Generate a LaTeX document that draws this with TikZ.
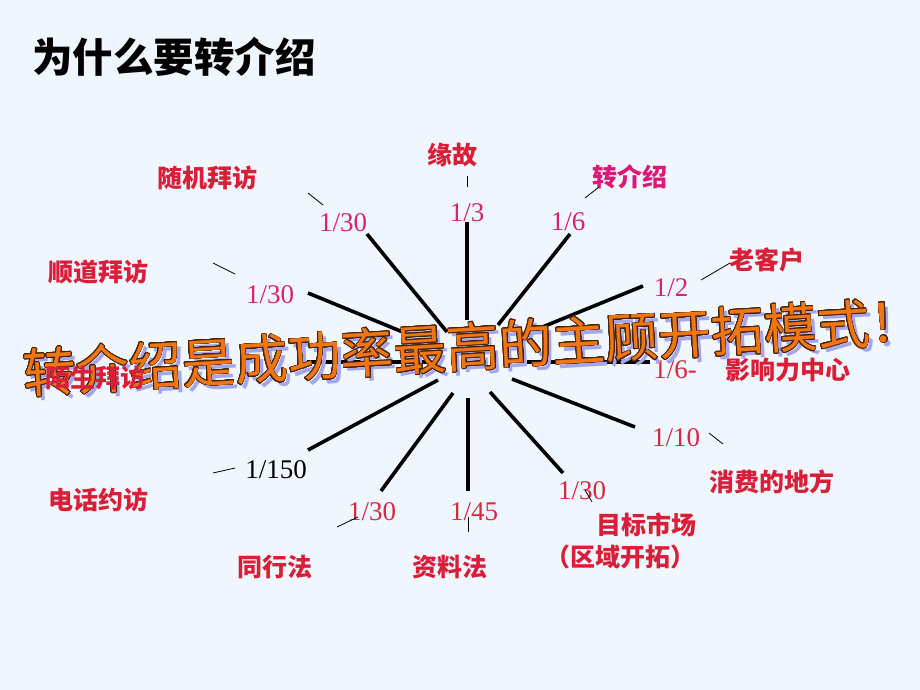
\documentclass[tikz,border=0pt]{standalone}
\usepackage{fontspec}
\setmainfont{Liberation Serif}
\newfontfamily\cjk{Noto Sans CJK SC}
\usepackage[copies]{contour}
\contourlength{0.7pt}
\contournumber{24}
\usetikzlibrary{positioning}

\definecolor{bgblue}{RGB}{239,246,253}
\definecolor{lblred}{RGB}{218,30,55}
\definecolor{lblpink}{RGB}{225,20,120}
\definecolor{ratpink}{RGB}{215,35,115}
\definecolor{ratred}{RGB}{215,40,65}
\definecolor{wordorange}{RGB}{240,118,20}
\definecolor{wordbrown}{RGB}{70,35,10}
\definecolor{wordshadow}{RGB}{165,165,235}

\begin{document}
\begin{tikzpicture}[x=1pt, y=-1pt,
  lbl/.style={text=lblred, font=\cjk\bfseries\fontsize{25}{28}\selectfont, inner sep=0pt},
  rat/.style={font=\fontsize{27}{30}\selectfont, inner sep=0pt},
  spoke/.style={line width=3.6pt},
  tick/.style={line width=0.8pt}]
\fill[bgblue] (0,0) rectangle (920,690);
\useasboundingbox (0,0) rectangle (920,690);

\node[anchor=west, inner sep=0pt, font=\cjk\bfseries\fontsize{40.5}{46}\selectfont] (title) at (32,57) {为什么要转介绍};

% spokes: outer end / inner end
\foreach \n/\ox/\oy/\ix/\iy in {1/467/222/467/320, 2/570/234/498/325, 3/643/286/540/328,
    4/650/362/527/362, 5/635/427/512/379, 6/563/473/490/392, 7/468/491/468/398,
    8/381/491/453/393, 9/308/450/438/380, 10/307/362/430/362, 11/308/293/410/335,
    12/367/234/447/332} {
  \coordinate (o\n) at (\ox,\oy);
  \coordinate (i\n) at (\ix,\iy);
  \draw[spoke] (i\n) -- (o\n);
}

% ratios
\node[rat, text=ratpink] (r12) at (343,223) {1/30};
\node[rat, text=ratpink] (r1) at (467,213) {1/3};
\node[rat, text=ratpink] (r2) at (568,222) {1/6};
\node[rat, text=ratpink] (r3) at (671,288) {1/2};
\node[rat, text=ratpink] (r11) at (270,295) {1/30};
\node[rat, text=ratred] (r4) at (675,370) {1/6-};
\node[rat, text=ratred] (r5) at (676,438) {1/10};
\node[rat, text=ratred] (r6) at (582,491) {1/30};
\node[rat, text=ratred] (r7) at (474,512) {1/45};
\node[rat, text=ratred] (r8) at (372,512) {1/30};
\node[rat, text=black] (r9) at (276,470) {1/150};

% labels
\node[lbl] (yuangu) at (452,155) {缘故};
\node[lbl] (suiji) at (207,178) {随机拜访};
\node[lbl, text=lblpink] (zhuan) at (630,177) {转介绍};
\node[lbl] (shundao) at (98,272) {顺道拜访};
\node[lbl] (laoke) at (767,260) {老客户};
\node[lbl] (yingxiang) at (788,370) {影响力中心};
\node[lbl] (xiaofei) at (772,482) {消费的地方};
\node[lbl] (dianhua) at (98,500) {电话约访};
\node[lbl] (tonghang) at (275,567) {同行法};
\node[lbl] (ziliao) at (450,567) {资料法};
\node[lbl] (mubiao) at (646,525) {目标市场};
\node[lbl, below=7pt of mubiao.south, anchor=north, xshift=-26pt] (quyu) {（区域开拓）};

% leader ticks
\foreach \n/\ax/\ay/\bx/\by in {a/308/193/323/205, b/213/263/235/274, c/467/176/467/187,
    d/585/198/599/187, e/701/280/730/263, f/709/433/723/444, g/585/490/592/502,
    h/468/517/468/532, k/337/527/358/517, m/213/473/235/468} {
  \coordinate (ta\n) at (\ax,\ay);
  \coordinate (tb\n) at (\bx,\by);
  \draw[tick] (ta\n) -- (tb\n);
}

% slogan
\node[rotate=3.4, inner sep=0pt, text=wordshadow, font=\cjk\fontsize{53}{58}\selectfont] (sloganshadow) at (477,351) {转介绍是成功率最高的主顾开拓模式！};
\node[rotate=3.4, inner sep=0pt, text=wordorange, font=\cjk\fontsize{53}{58}\selectfont] (slogan) at (473,347) {\contour{wordbrown}{转介绍是成功率最高的主顾开拓模式！}};
\node[lbl] (mosheng) at (95,378) {陌生拜访};
\end{tikzpicture}
\end{document}
